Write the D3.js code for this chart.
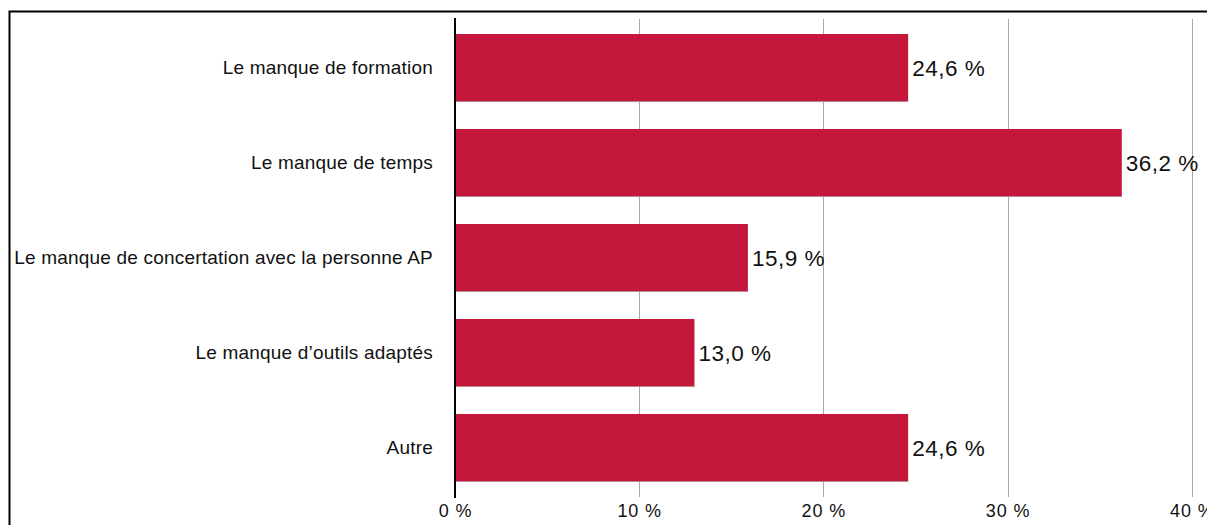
<!DOCTYPE html>
<html><head><meta charset="utf-8">
<script src="https://cdn.jsdelivr.net/npm/d3@7"></script>
<style>html,body{margin:0;padding:0;background:#fff;}svg{display:block;font-family:"Liberation Sans",Arial,Helvetica,sans-serif;}</style>
</head><body>
<svg id="c" width="1207" height="525"></svg>
<script>
const categories = ["Le manque de formation","Le manque de temps","Le manque de concertation avec la personne AP","Le manque d’outils adaptés","Autre"];
const values = [24.6, 36.2, 15.9, 13.0, 24.6];
const ticks = [0, 10, 20, 30, 40];

const svg = d3.select("#c");
const x0 = 455, plotTop = 19, plotBottom = 497;
const x = d3.scaleLinear().domain([0, 40]).range([x0, 1191.8]);
const y = d3.scaleBand().domain(categories).range([plotTop, plotBottom]).paddingInner(0.284).paddingOuter(0.158);
const fmt = v => v.toFixed(1).replace(".", ",") + " %";

// frame
svg.append("path").attr("d", "M9.5,525 L9.5,11.5 L1207,11.5").attr("fill","none").attr("stroke","#000").attr("stroke-width",2);

// gridlines
svg.append("g").selectAll("line").data(ticks.slice(1)).join("line")
  .attr("x1", d => Math.round(x(d)) + 0.5).attr("x2", d => Math.round(x(d)) + 0.5)
  .attr("y1", plotTop).attr("y2", plotBottom).attr("stroke", "#a8a8a8").attr("stroke-width", 1);

// bars
svg.append("g").selectAll("rect").data(values).join("rect")
  .attr("x", x0).attr("y", (d,i) => y(categories[i]))
  .attr("width", d => x(d) - x0).attr("height", y.bandwidth())
  .attr("fill", "#c4173b");
// subtle bottom edge on bars
svg.append("g").selectAll("line").data(values).join("line")
  .attr("x1", x0).attr("x2", d => x(d))
  .attr("y1", (d,i) => y(categories[i]) + y.bandwidth() - 0.5)
  .attr("y2", (d,i) => y(categories[i]) + y.bandwidth() - 0.5)
  .attr("stroke", "#b58a94").attr("stroke-width", 1);

// value labels
svg.append("g").selectAll("text").data(values).join("text")
  .attr("x", d => x(d) + 4).attr("y", (d,i) => y(categories[i]) + y.bandwidth()/2)
  .attr("dy", "0.36em").attr("font-size", 22.5).attr("letter-spacing", 0.5).attr("fill", "#111").text(fmt);

// category axis
const ay = d3.axisLeft(y).tickSize(0).tickPadding(22);
const gy = svg.append("g").attr("transform", `translate(${x0},0)`).call(ay);
gy.select(".domain").remove();
gy.selectAll("text").attr("font-size", 19).attr("letter-spacing", 0.2).attr("fill", "#111").attr("font-family", "Liberation Sans, Arial, sans-serif");

// zero axis line
svg.append("line").attr("x1", x0).attr("x2", x0).attr("y1", 18).attr("y2", 498).attr("stroke", "#000").attr("stroke-width", 2);

// x tick labels
const ax = d3.axisBottom(x).tickValues(ticks).tickSize(0).tickPadding(0).tickFormat(d => d + " %");
const gx = svg.append("g").attr("transform", `translate(0,504)`).call(ax);
gx.select(".domain").remove();
gx.selectAll("text").attr("font-size", 18).attr("letter-spacing", 0.9).attr("fill", "#111").attr("font-family", "Liberation Sans, Arial, sans-serif");
</script>
</body></html>
